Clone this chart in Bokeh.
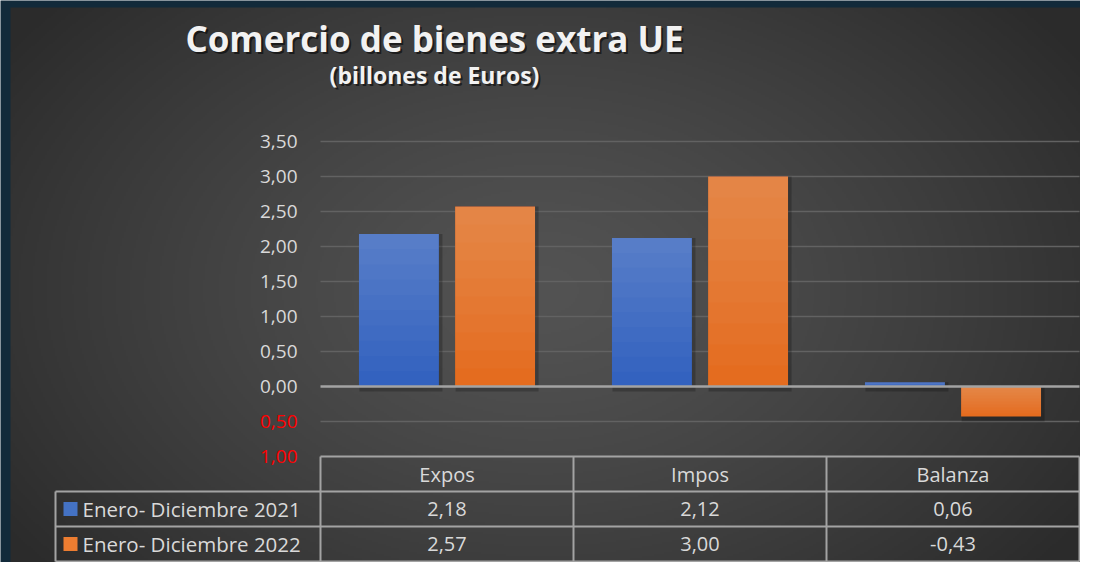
import numpy as np
from bokeh.plotting import figure
from bokeh.models import Range1d, ColumnDataSource
from bokeh.transform import dodge
from bokeh.core.properties import value
from bokeh.embed import file_html
from bokeh.resources import INLINE

# ---------------- data ----------------
categories = ["Expos", "Impos", "Balanza"]
series_names = ["Enero- Diciembre 2021", "Enero- Diciembre 2022"]
values_2021 = [2.18, 2.12, 0.06]
values_2022 = [2.57, 3.00, -0.43]
y_ticks = [3.5, 3.0, 2.5, 2.0, 1.5, 1.0, 0.5, 0.0, -0.5, -1.0]
title_text = "Comercio de bienes extra UE"
subtitle_text = "(billones de Euros)"

# ---------------- style / layout ----------------
FONT = "Open Sans"
W, H = 1080, 562
PXX = 253.0    # pixels per category
PXY = 70.0     # pixels per unit of value
CX0, ZY = 446.5, 386.0  # pixel position of first category centre / zero line

def dx(px):
    return (px - CX0) / PXX

def dy(py):
    return (ZY - py) / PXY

x0, x1 = dx(0), dx(W)
y0, y1 = dy(H), dy(0)

BLUE = "#4472c4"
ORANGE = "#ed7d31"
BLUE_DARK = "#2f5fbe"
ORANGE_DARK = "#e4691a"
TXT = "#d9d9d9"
LINE = "#a3a3a3"
NAVY = "#122a3a"

p = figure(width=W, height=H, x_range=Range1d(x0, x1), y_range=Range1d(y0, y1),
           x_axis_type=None, y_axis_type=None, output_backend="svg",
           toolbar_location=None, min_border=0)
p.outline_line_color = None
p.background_fill_color = NAVY
p.border_fill_color = NAVY
p.grid.visible = False

# background gradient (decoration)
gx0, gy_top = dx(10), dy(7)
gw, gh = x1 - gx0, gy_top - y0
nw, nh = 540, 280
px_x = np.linspace(10, W, nw)
px_y = np.linspace(H, 7, nh)  # row 0 = bottom
XX, YY = np.meshgrid(px_x, px_y)
d = np.sqrt(((XX - 540) / 640.0) ** 2 + ((YY - 290) / 430.0) ** 2)
g = 83 - 39 * np.clip(d, 0, 1) ** 1.3 - 4 * np.clip(d - 1, 0, 1)
g = g.astype(np.uint8)
img = np.empty((nh, nw), dtype=np.uint32)
view = img.view(dtype=np.uint8).reshape((nh, nw, 4))
view[:, :, 0] = g
view[:, :, 1] = g
view[:, :, 2] = g
view[:, :, 3] = 255
p.image_rgba(image=[img], x=gx0, y=y0, dw=gw, dh=gh)

# grid lines
left_edge, right_edge = -0.5, len(categories) - 0.5
grid_vals = [t for t in y_ticks if t not in (0.0, y_ticks[-1])]
p.segment(x0=[left_edge] * len(grid_vals), y0=grid_vals,
          x1=[right_edge] * len(grid_vals), y1=grid_vals,
          line_color="#626262", line_width=1.5)

# bars
xs = list(range(len(categories)))
off, bw = 0.19, 0.316
series = [(values_2021, -off, BLUE_DARK), (values_2022, off, ORANGE_DARK)]
NL = 10
for vals, o, dark in series:
    src = ColumnDataSource(dict(x=xs, v=vals,
                                top=[max(v, 0) for v in vals],
                                bot=[min(v, 0) for v in vals],
                                sbot=[min(v, 0) - 0.07 for v in vals]))
    # soft shadow
    p.vbar(x=dodge("x", o + 0.008, range=p.x_range), width=bw + 0.012,
           top="top", bottom="sbot", source=src,
           fill_color="black", fill_alpha=0.22, line_color=None)
    p.vbar(x=dodge("x", o, range=p.x_range), width=bw, top="top", bottom="bot",
           source=src, fill_color=dark, line_color=None)
    # vertical light gradient: lighter at the visual top of each bar
    for k in range(NL):
        tops, bots = [], []
        for v in vals:
            if v >= 0:
                tops.append(v)
                bots.append(v * k / NL)
            else:
                tops.append(0)
                bots.append(v * (NL - k) / NL)
        p.vbar(x=[xx + o for xx in xs], width=bw, top=tops, bottom=bots,
               fill_color="white", fill_alpha=0.024, line_color=None)

# zero line
p.segment(x0=[left_edge], y0=[0], x1=[right_edge], y1=[0], line_color=LINE, line_width=2.5)

# y tick labels
def fmt(v):
    return f"{abs(v):.2f}".replace(".", ",")

tick_src = ColumnDataSource(dict(
    x=[dx(297)] * len(y_ticks), y=y_ticks,
    t=[fmt(v) for v in y_ticks],
    c=["#ff0000" if v < 0 else TXT for v in y_ticks]))
p.text(x="x", y="y", text="t", text_color="c", source=tick_src,
       text_font=value(FONT), text_font_size="19px",
       text_align="right", text_baseline="middle")

# data table
tbl_top = y_ticks[-1]
row_h = 0.5
r1, r2, r3 = tbl_top - row_h, tbl_top - 2 * row_h, tbl_top - 3 * row_h
leg_left = dx(55)
hx0 = [left_edge, leg_left, leg_left, leg_left]
hx1 = [right_edge] * 4
hy = [tbl_top, r1, r2, r3]
p.segment(x0=hx0, y0=hy, x1=hx1, y1=hy, line_color=LINE, line_width=2)
vx = [leg_left] + [left_edge + i for i in range(len(categories) + 1)]
vy0 = [r1] + [tbl_top] * (len(categories) + 1)
p.segment(x0=vx, y0=vy0, x1=vx, y1=[r3] * len(vx), line_color=LINE, line_width=2)

p.text(x=xs, y=[(tbl_top + r1) / 2] * len(xs), text=categories, text_color=TXT,
       text_font=value(FONT), text_font_size="20px",
       text_align="center", text_baseline="middle")
row_y = [(r1 + r2) / 2, (r2 + r3) / 2]
for ry, vals in zip(row_y, [values_2021, values_2022]):
    p.text(x=xs, y=[ry] * len(xs), text=[f"{v:.2f}".replace(".", ",") for v in vals],
           text_color=TXT, text_font=value(FONT), text_font_size="20px",
           text_align="center", text_baseline="middle")

p.scatter(x=[dx(70)] * 2, y=row_y, marker="square", size=14,
          fill_color=[BLUE, ORANGE], line_color=None)
p.text(x=[dx(82)] * 2, y=row_y, text=series_names, text_color=TXT,
       text_font=value(FONT), text_font_size="20.5px",
       text_align="left", text_baseline="middle")

# titles with shadow
tx = dx(434)
for sh_off, col, alpha in [((0.008, -0.03), "black", 0.55), ((0, 0), "#f2f2f2", 1.0)]:
    p.text(x=[tx + sh_off[0]], y=[dy(38) + sh_off[1]], text=[title_text], text_color=col,
           text_alpha=alpha, text_font=value(FONT), text_font_size="35px",
           text_font_style="bold", text_align="center", text_baseline="middle")
    p.text(x=[tx + sh_off[0]], y=[dy(74) + sh_off[1]], text=[subtitle_text], text_color=col,
           text_alpha=alpha, text_font=value(FONT), text_font_size="23px",
           text_font_style="bold", text_align="center", text_baseline="middle")

open("out.html", "w").write(file_html(p, INLINE))
